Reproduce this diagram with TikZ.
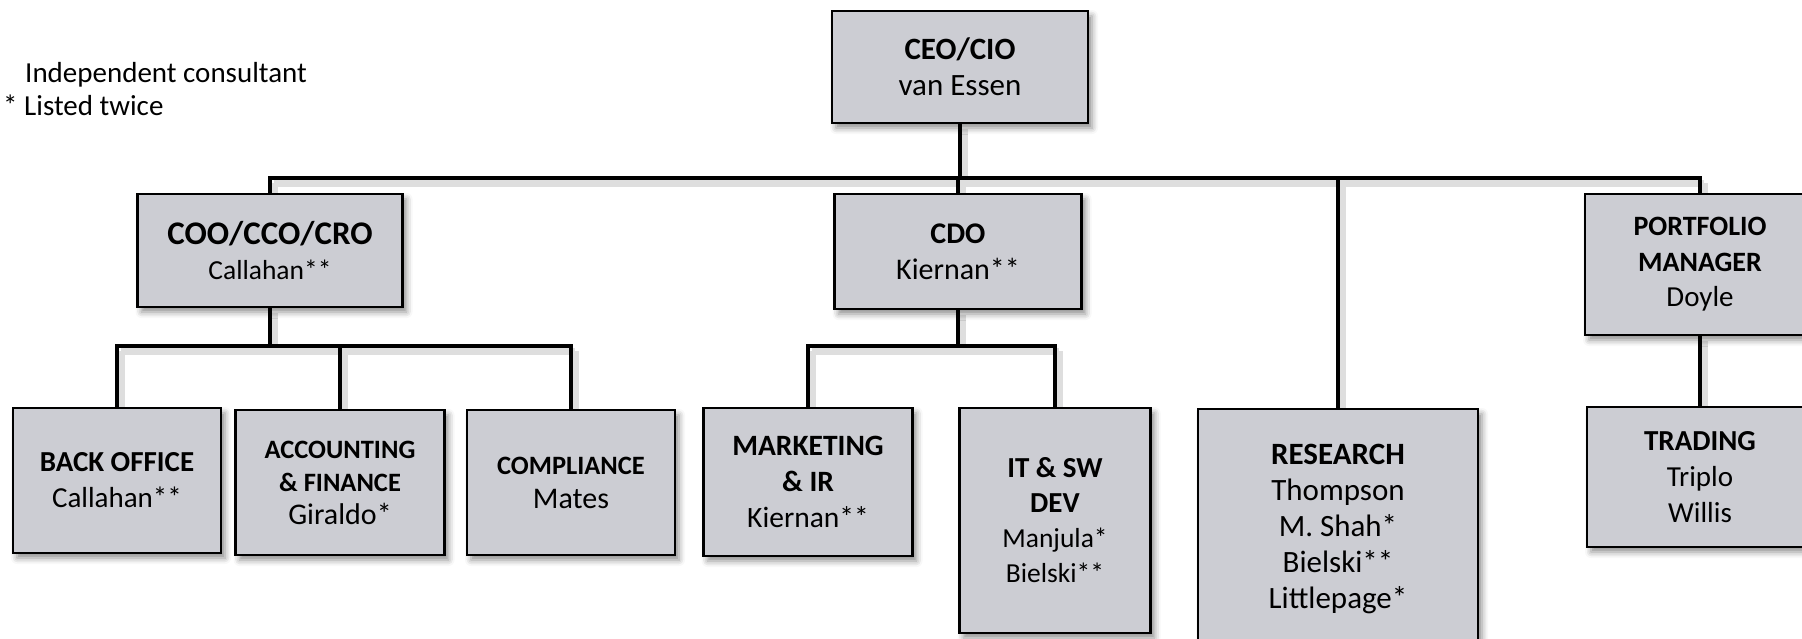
\documentclass[tikz,border=0pt]{standalone}
\usepackage{fontspec}
\setmainfont{Carlito}
\usetikzlibrary{shadows.blur}
\pgfdeclarelayer{background}
\pgfsetlayers{background,main}
\definecolor{boxgray}{RGB}{204,205,211}
\newcommand{\fsz}[2]{\fontsize{#1}{#2}\selectfont}
\tikzset{
  orgbox/.style={draw=black, line width=2.6pt, fill=boxgray, align=center, inner sep=0pt,
    blur shadow={shadow xshift=4pt, shadow yshift=-5pt, shadow blur radius=6pt, shadow opacity=45}},
  conn/.style={line width=4pt, line cap=rect,
    preaction={draw=black!13, line width=7pt, transform canvas={xshift=4pt,yshift=-5pt}}},
  legend/.style={anchor=base west, inner sep=0pt, font=\fsz{29}{33}}
}
\begin{document}
\begin{tikzpicture}[x=1pt,y=-1pt]
\useasboundingbox (0,0) rectangle (1802,638);
\clip (0,0) rectangle (1802,638);

\coordinate (bus) at (0,178);
\coordinate (subbus) at (0,346);

% legend
\node[legend] (leg1) at (25,82) {Independent consultant};
\node[legend] (leg2) at (3,115) {* Listed twice};

% boxes
\node[orgbox, minimum width=256pt, minimum height=112pt, font=\fsz{31}{36}] (ceo) at (960,67) {\textbf{CEO/CIO}\\van Essen};
\node[orgbox, minimum width=265pt, minimum height=113pt, font=\fsz{33}{35}] (coo) at (270,250.5) {\textbf{COO/CCO/CRO}\\{\fsz{27.5}{35}Callahan**}};
\node[orgbox, minimum width=247pt, minimum height=115pt, font=\fsz{30}{36}] (cdo) at (958,251.5) {\textbf{CDO}\\Kiernan**};
\node[orgbox, minimum width=230pt, minimum height=141pt, font=\fsz{28}{35.5}] (pm) at (1700,264.5) {\textbf{PORTFOLIO}\\\textbf{MANAGER}\\{\fsz{29}{35.5}Doyle}};

\node[orgbox, minimum width=208pt, minimum height=145pt, font=\fsz{29}{36}] (back) at (117,480.5) {\textbf{BACK OFFICE}\\Callahan**};
\node[orgbox, minimum width=209pt, minimum height=145pt, font=\fsz{26.5}{33}] (acc) at (340,482.5) {\textbf{ACCOUNTING}\\\textbf{\& FINANCE}\\{\fsz{30}{33}Giraldo*}};
\node[orgbox, minimum width=208pt, minimum height=145pt, font=\fsz{26.5}{34}] (comp) at (571,482.5) {\textbf{COMPLIANCE}\\{\fsz{30}{34}Mates}};
\node[orgbox, minimum width=209pt, minimum height=148pt, font=\fsz{29.5}{36}] (mkt) at (808,482) {\textbf{MARKETING}\\\textbf{\& IR}\\Kiernan**};
\node[orgbox, minimum width=191pt, minimum height=225pt, font=\fsz{29}{35}] (it) at (1055,520.5) {\textbf{IT \& SW}\\\textbf{DEV}\\{\fsz{27.5}{35}Manjula*}\\{\fsz{27.5}{35}Bielski**}};
\node[orgbox, minimum width=280pt, minimum height=239pt, font=\fsz{31}{36}] (res) at (1338,528.5) {\textbf{RESEARCH}\\Thompson\\M. Shah*\\Bielski**\\Littlepage*};
\node[orgbox, minimum width=226pt, minimum height=140pt, font=\fsz{29}{36}] (trad) at (1700,477) {\textbf{TRADING}\\Triplo\\Willis};

\begin{pgfonlayer}{background}
% top level connectors
\draw[conn] (ceo.south) -- (ceo.south |- bus);
\draw[conn] (coo.north |- bus) -- (pm.north |- bus);
\draw[conn] (coo.north) -- (coo.north |- bus);
\draw[conn] (cdo.north) -- (cdo.north |- bus);
\draw[conn] (res.north) -- (res.north |- bus);
\draw[conn] (pm.north) -- (pm.north |- bus);

% COO group
\draw[conn] (coo.south) -- (coo.south |- subbus);
\draw[conn] (back.north |- subbus) -- (comp.north |- subbus);
\draw[conn] (back.north) -- (back.north |- subbus);
\draw[conn] (acc.north) -- (acc.north |- subbus);
\draw[conn] (comp.north) -- (comp.north |- subbus);

% CDO group
\draw[conn] (cdo.south) -- (cdo.south |- subbus);
\draw[conn] (mkt.north |- subbus) -- (it.north |- subbus);
\draw[conn] (mkt.north) -- (mkt.north |- subbus);
\draw[conn] (it.north) -- (it.north |- subbus);

% PM to trading
\draw[conn] (pm.south) -- (trad.north);
\end{pgfonlayer}
\end{tikzpicture}
\end{document}
